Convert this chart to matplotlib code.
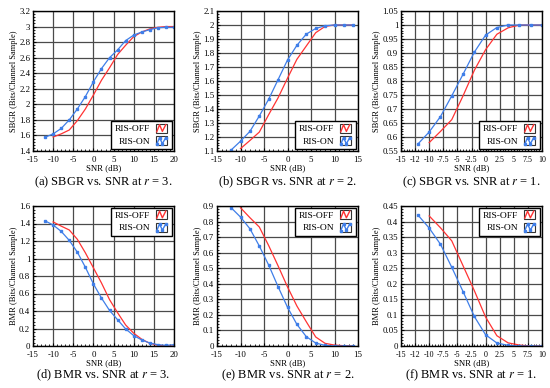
import numpy as np
import matplotlib
matplotlib.use("Agg")
import matplotlib.pyplot as plt
from matplotlib.legend_handler import HandlerBase
from matplotlib.lines import Line2D
from matplotlib.patches import Rectangle
from matplotlib.ticker import MultipleLocator, AutoMinorLocator, FormatStrFormatter

plt.rcParams['font.family'] = ['Liberation Serif', 'DejaVu Serif']
plt.rcParams['mathtext.fontset'] = 'stix'

# ---- data ----
snr_r3 = [-12, -10, -8, -6, -4, -2, 0, 2, 4, 6, 8, 10, 12, 14, 16, 18, 20]
snr_r2 = [-12, -10, -8, -6, -4, -2, 0, 2, 4, 6, 8, 10, 12, 14]
snr_r1 = [-12, -10, -8, -6, -4, -2, 0, 2, 4, 6, 8, 10]

# SBGR r=3
sbgr3_on = [1.577, 1.62, 1.69, 1.80, 1.94, 2.10, 2.29, 2.46, 2.60, 2.70, 2.82, 2.89, 2.93, 2.96, 2.985, 2.99, 2.99]
sbgr3_off = [None, 1.58, 1.62, 1.67, 1.79, 1.94, 2.12, 2.31, 2.47, 2.64, 2.76, 2.87, 2.93, 2.97, 2.99, 3.0, 3.0]
# SBGR r=2
sbgr2_on = [1.107, 1.17, 1.24, 1.35, 1.47, 1.61, 1.75, 1.855, 1.935, 1.975, 1.995, 2.0, 2.0, 2.0]
sbgr2_off = [None, 1.117, 1.175, 1.235, 1.36, 1.48, 1.62, 1.755, 1.85, 1.945, 1.99, 2.0, 2.0, 2.0]
# SBGR r=1
sbgr1_on = [0.575, 0.618, 0.673, 0.747, 0.824, 0.903, 0.964, 0.991, 1.0, 1.0, 1.0, 1.0]
sbgr1_off = [None, 0.58, 0.62, 0.662, 0.747, 0.838, 0.912, 0.967, 0.99, 1.0, 1.0, 1.0]
# BMR r=3
bmr3_on = [1.43, 1.383, 1.31, 1.207, 1.073, 0.90, 0.709, 0.548, 0.406, 0.30, 0.195, 0.119, 0.069, 0.034, 0.015, 0.008, 0.015]
bmr3_off = [None, 1.418, 1.37, 1.326, 1.22, 1.065, 0.893, 0.72, 0.53, 0.38, 0.24, 0.146, 0.077, 0.03, 0.008, 0.0, 0.0]
# BMR r=2
bmr2_on = [0.889, 0.829, 0.754, 0.643, 0.52, 0.381, 0.249, 0.139, 0.06, 0.019, 0.004, 0.0, 0.0, 0.0]
bmr2_off = [None, 0.889, 0.825, 0.765, 0.645, 0.515, 0.38, 0.257, 0.156, 0.058, 0.017, 0.006, 0.002, 0.0]
# BMR r=1
bmr1_on = [0.421, 0.379, 0.327, 0.253, 0.175, 0.095, 0.036, 0.0096, 0.002, 0.0, 0.0, 0.0]
bmr1_off = [None, 0.418, 0.38, 0.338, 0.258, 0.178, 0.093, 0.033, 0.01, 0.003, 0.0, 0.0]

captions = ["(a) SBGR vs. SNR at $r$ = 3.", "(b) SBGR vs. SNR at $r$ = 2.", "(c) SBGR vs. SNR at $r$ = 1.",
            "(d) BMR vs. SNR at $r$ = 3.", "(e) BMR vs. SNR at $r$ = 2.", "(f) BMR vs. SNR at $r$ = 1."]

RED = '#ff3333'
BLUE = '#3f7ee8'


class ZigzagHandler(HandlerBase):
    """little boxed zigzag icon like the original legend"""
    def __init__(self, up_first=True, marker=None):
        super().__init__()
        self.up_first = up_first
        self.marker = marker

    def create_artists(self, legend, orig_handle, xdescent, ydescent,
                       width, height, fontsize, trans):
        w = height * 1.7
        x0 = -xdescent + (width - w) / 2
        y0 = -ydescent - height * 0.2
        h = height * 1.35
        box = Rectangle((x0, y0), w, h, facecolor='white', edgecolor='#333333',
                        lw=0.8, transform=trans)
        xs = x0 + np.array([0.1, 0.35, 0.6, 0.9]) * w
        if self.up_first:
            ys = y0 + np.array([0.1, 0.9, 0.15, 0.9]) * h
        else:
            ys = y0 + np.array([0.1, 0.85, 0.15, 0.85]) * h
        ln = Line2D(xs, ys, color=orig_handle.get_color(), lw=1.0,
                    marker=self.marker, markersize=2, transform=trans)
        return [box, ln]


def draw_panel(ax, x, on, off, xlim, xstep, ylim, ystep, ylabel, loc):
    xo = [a for a, b in zip(x, off) if b is not None]
    yo = [b for b in off if b is not None]
    l_off, = ax.plot(xo, yo, color=RED, lw=0.9)
    l_on, = ax.plot(x, on, color=BLUE, lw=0.9, marker='s', markersize=2)
    ax.set_xlim(*xlim)
    ax.set_ylim(*ylim)
    ax.xaxis.set_major_locator(MultipleLocator(xstep))
    ax.yaxis.set_major_locator(MultipleLocator(ystep))
    ax.xaxis.set_minor_locator(AutoMinorLocator(5))
    ax.yaxis.set_minor_locator(AutoMinorLocator(5))
    ax.xaxis.set_major_formatter(FormatStrFormatter('%.2g'))
    ax.yaxis.set_major_formatter(FormatStrFormatter('%g'))
    ax.grid(True, which='major', color='#4a4a4a', lw=0.9)
    ax.tick_params(which='both', direction='in', labelsize=6.3, pad=2)
    ax.tick_params(axis='x', pad=3.5)
    ax.tick_params(which='major', length=2.5)
    ax.tick_params(which='minor', length=1.5)
    for s in ax.spines.values():
        s.set_linewidth(1.0)
    ax.set_xlabel("SNR (dB)", fontsize=6.3, labelpad=0.3)
    ax.set_ylabel(ylabel, fontsize=6.0, labelpad=1)
    leg = ax.legend([l_off, l_on], ["RIS-OFF", "RIS-ON"], loc=loc,
                    handler_map={l_off: ZigzagHandler(True),
                                 l_on: ZigzagHandler(False, marker='s')},
                    fontsize=6.8, fancybox=False, framealpha=1, edgecolor='black',
                    borderpad=0.35, labelspacing=0.4, handlelength=1.6,
                    handletextpad=0.4, borderaxespad=0.2, markerfirst=False)
    leg.get_frame().set_linewidth(1.0)
    ax.set_axisbelow(True)


fig = plt.figure(figsize=(5.5, 3.88), dpi=100)
W, H = 550.0, 388.0
lefts = [33, 217, 401]
tops = [11, 206]
aw, ah = 141, 140

panels = [
    (snr_r3, sbgr3_on, sbgr3_off, (-15, 20), 5, (1.4, 3.2), 0.2, "SBGR (Bits/Channel Sample)", 'lower right'),
    (snr_r2, sbgr2_on, sbgr2_off, (-15, 15), 5, (1.1, 2.1), 0.1, "SBGR (Bits/Channel Sample)", 'lower right'),
    (snr_r1, sbgr1_on, sbgr1_off, (-15, 10), 2.5, (0.55, 1.05), 0.05, "SBGR (Bits/Channel Sample)", 'lower right'),
    (snr_r3, bmr3_on, bmr3_off, (-15, 20), 5, (0, 1.6), 0.2, "BMR (Bits/Channel Sample)", 'upper right'),
    (snr_r2, bmr2_on, bmr2_off, (-15, 15), 5, (0, 0.9), 0.1, "BMR (Bits/Channel Sample)", 'upper right'),
    (snr_r1, bmr1_on, bmr1_off, (-15, 10), 2.5, (0, 0.45), 0.05, "BMR (Bits/Channel Sample)", 'upper right'),
]

for i, p in enumerate(panels):
    r, c = divmod(i, 3)
    ax = fig.add_axes([lefts[c] / W, 1 - (tops[r] + ah) / H, aw / W, ah / H])
    draw_panel(ax, *p)
    if c == 2:
        ax.tick_params(axis='x', labelsize=5.8)
    cap_y = 182 if r == 0 else 375
    fig.text((lefts[c] + aw / 2) / W, 1 - cap_y / H, captions[i],
             ha='center', va='center', fontsize=9)

fig.savefig("out.png", dpi=100)
